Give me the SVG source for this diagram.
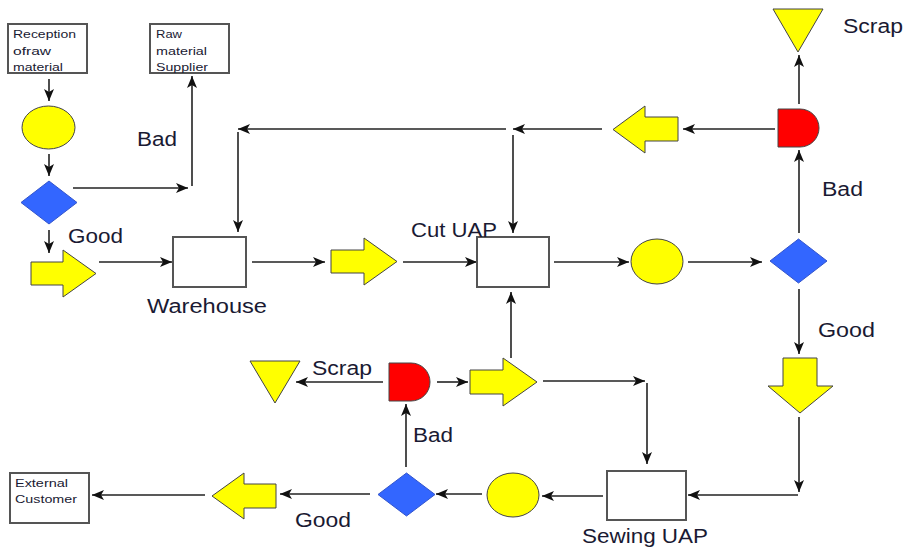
<svg xmlns="http://www.w3.org/2000/svg" width="907" height="549" viewBox="0 0 907 549">
<style>
.box{fill:#fff;stroke:#555;stroke-width:2}
.yel{fill:#ffff00;stroke:#444;stroke-width:1}
.blue{fill:#3366ff;stroke:#3355cc;stroke-width:1}
.red{fill:#ff0000;stroke:#444;stroke-width:1}
.lbl{font-family:"Liberation Sans",Arial,sans-serif;font-size:20px;fill:#1a1a33}
.sm{font-family:"Liberation Sans",Arial,sans-serif;font-size:11px;fill:#1a1a33}
#connectors path{fill:none;stroke:#222;stroke-width:1.6;marker-end:url(#ah)}
#connectors path.plain{marker-end:none}
</style>
<defs>
<marker id="ah" viewBox="0 0 12 10" refX="12" refY="5" markerWidth="12" markerHeight="10" markerUnits="userSpaceOnUse" orient="auto">
<path d="M0,0 L12,5 L0,10 L3,5 z" fill="#111"/>
</marker>
</defs>
<rect width="907" height="549" fill="#fff"/>

<g id="connectors">
<path d="M49,79 L49,101"/>
<path d="M49,154 L49,176"/>
<path d="M73,188 L188,188"/>
<path d="M192,186 L192,76"/>
<path d="M49,230 L49,253"/>
<path d="M99,262 L172,262"/>
<path d="M252,262 L325,262"/>
<path d="M403,262 L477,262"/>
<path d="M554,262 L629,262"/>
<path d="M688,262 L762,262"/>
<path d="M799,233 L799,150"/>
<path d="M799,104 L799,55"/>
<path d="M775,129 L683,129"/>
<path d="M602,129 L513,129"/>
<path d="M506,129 L238,129"/>
<path d="M238,132 L238,232"/>
<path d="M513,135 L513,233"/>
<path d="M799,289 L799,354"/>
<path d="M799,417 L799,492"/>
<path d="M798,495 L688,495"/>
<path d="M603,496 L542,496"/>
<path d="M482,494 L436,494"/>
<path d="M370,494 L280,494"/>
<path d="M205,495 L92,495"/>
<path d="M406,467 L406,404"/>
<path d="M383,382 L296,382"/>
<path d="M437,382 L468,382"/>
<path d="M511,358 L511,292"/>
<path d="M543,381 L645,381"/>
<path d="M647,383 L647,464"/>
</g>

<g id="reception">
<rect class="box" x="8" y="24" width="79" height="49"/>
<text class="sm" x="13" y="38" textLength="63" lengthAdjust="spacingAndGlyphs">Reception</text>
<text class="sm" x="13" y="55" textLength="38" lengthAdjust="spacingAndGlyphs">ofraw</text>
<text class="sm" x="13" y="71" textLength="50" lengthAdjust="spacingAndGlyphs">material</text>
</g>
<g id="supplier">
<rect class="box" x="150" y="24" width="79" height="49"/>
<text class="sm" x="156" y="38" textLength="26" lengthAdjust="spacingAndGlyphs">Raw</text>
<text class="sm" x="156" y="55" textLength="51" lengthAdjust="spacingAndGlyphs">material</text>
<text class="sm" x="156" y="71" textLength="52" lengthAdjust="spacingAndGlyphs">Supplier</text>
</g>
<g id="inspect1"><ellipse class="yel" cx="48.5" cy="127.5" rx="26.5" ry="21.5"/></g>
<g id="decision1"><polygon class="blue" points="21,202.5 49,181 77,202.5 49,224"/></g>
<g id="transport1"><polygon class="yel" points="31,262 63,262 63,250 96,273.5 63,297 63,285 31,285"/></g>
<g id="warehouse">
<rect class="box" x="173" y="237" width="73" height="50"/>
<text class="lbl" x="147" y="313" textLength="120" lengthAdjust="spacingAndGlyphs">Warehouse</text>
</g>
<g id="transport2"><polygon class="yel" points="331,250 364,250 364,238 397,261.5 364,285 364,273 331,273"/></g>
<g id="cut">
<rect class="box" x="477" y="237" width="72" height="50"/>
<text class="lbl" x="411" y="237" textLength="86" lengthAdjust="spacingAndGlyphs">Cut UAP</text>
</g>
<g id="inspect2"><ellipse class="yel" cx="657" cy="261.5" rx="26" ry="22.5"/></g>
<g id="decision2"><polygon class="blue" points="770,261 798.5,239 827,261 798.5,283"/></g>
<g id="delay1"><path class="red" d="M778,109 L800,109 A19,19 0 0 1 800,147 L778,147 Z"/></g>
<g id="scrap1">
<polygon class="yel" points="773,9 823,9 798,52"/>
<text class="lbl" x="843" y="33" textLength="60" lengthAdjust="spacingAndGlyphs">Scrap</text>
</g>
<g id="transport-back"><polygon class="yel" points="678,117 645,117 645,106 613,129.5 645,153 645,141 678,141"/></g>
<g id="transport-down"><polygon class="yel" points="783,358 817,358 817,386 833,386 800,413 768,386 783,386"/></g>
<g id="sewing">
<rect class="box" x="607" y="471" width="79" height="49"/>
<text class="lbl" x="582" y="543" textLength="126" lengthAdjust="spacingAndGlyphs">Sewing UAP</text>
</g>
<g id="inspect3"><ellipse class="yel" cx="513" cy="495" rx="26" ry="22"/></g>
<g id="decision3"><polygon class="blue" points="378,494.5 406.5,473 435,494.5 406.5,516"/></g>
<g id="delay2"><path class="red" d="M389,363 L411,363 A19,19 0 0 1 411,401 L389,401 Z"/></g>
<g id="scrap2">
<polygon class="yel" points="250,361 300,361 275,403"/>
<text class="lbl" x="312" y="375" textLength="60" lengthAdjust="spacingAndGlyphs">Scrap</text>
</g>
<g id="transport3"><polygon class="yel" points="470,370 503,370 503,358 537,382 503,406 503,394 470,394"/></g>
<g id="transport-out"><polygon class="yel" points="276,484 244,484 244,473 212,496 244,519 244,508 276,508"/></g>
<g id="customer">
<rect class="box" x="10" y="473" width="79" height="50"/>
<text class="sm" x="15" y="487" textLength="53" lengthAdjust="spacingAndGlyphs">External</text>
<text class="sm" x="15" y="503" textLength="62" lengthAdjust="spacingAndGlyphs">Customer</text>
</g>

<g id="labels">
<text class="lbl" x="137" y="146" textLength="40" lengthAdjust="spacingAndGlyphs">Bad</text>
<text class="lbl" x="68" y="243" textLength="55" lengthAdjust="spacingAndGlyphs">Good</text>
<text class="lbl" x="822" y="196" textLength="41" lengthAdjust="spacingAndGlyphs">Bad</text>
<text class="lbl" x="818" y="337" textLength="57" lengthAdjust="spacingAndGlyphs">Good</text>
<text class="lbl" x="295" y="527" textLength="56" lengthAdjust="spacingAndGlyphs">Good</text>
<text class="lbl" x="413" y="442" textLength="40" lengthAdjust="spacingAndGlyphs">Bad</text>
</g>
</svg>
